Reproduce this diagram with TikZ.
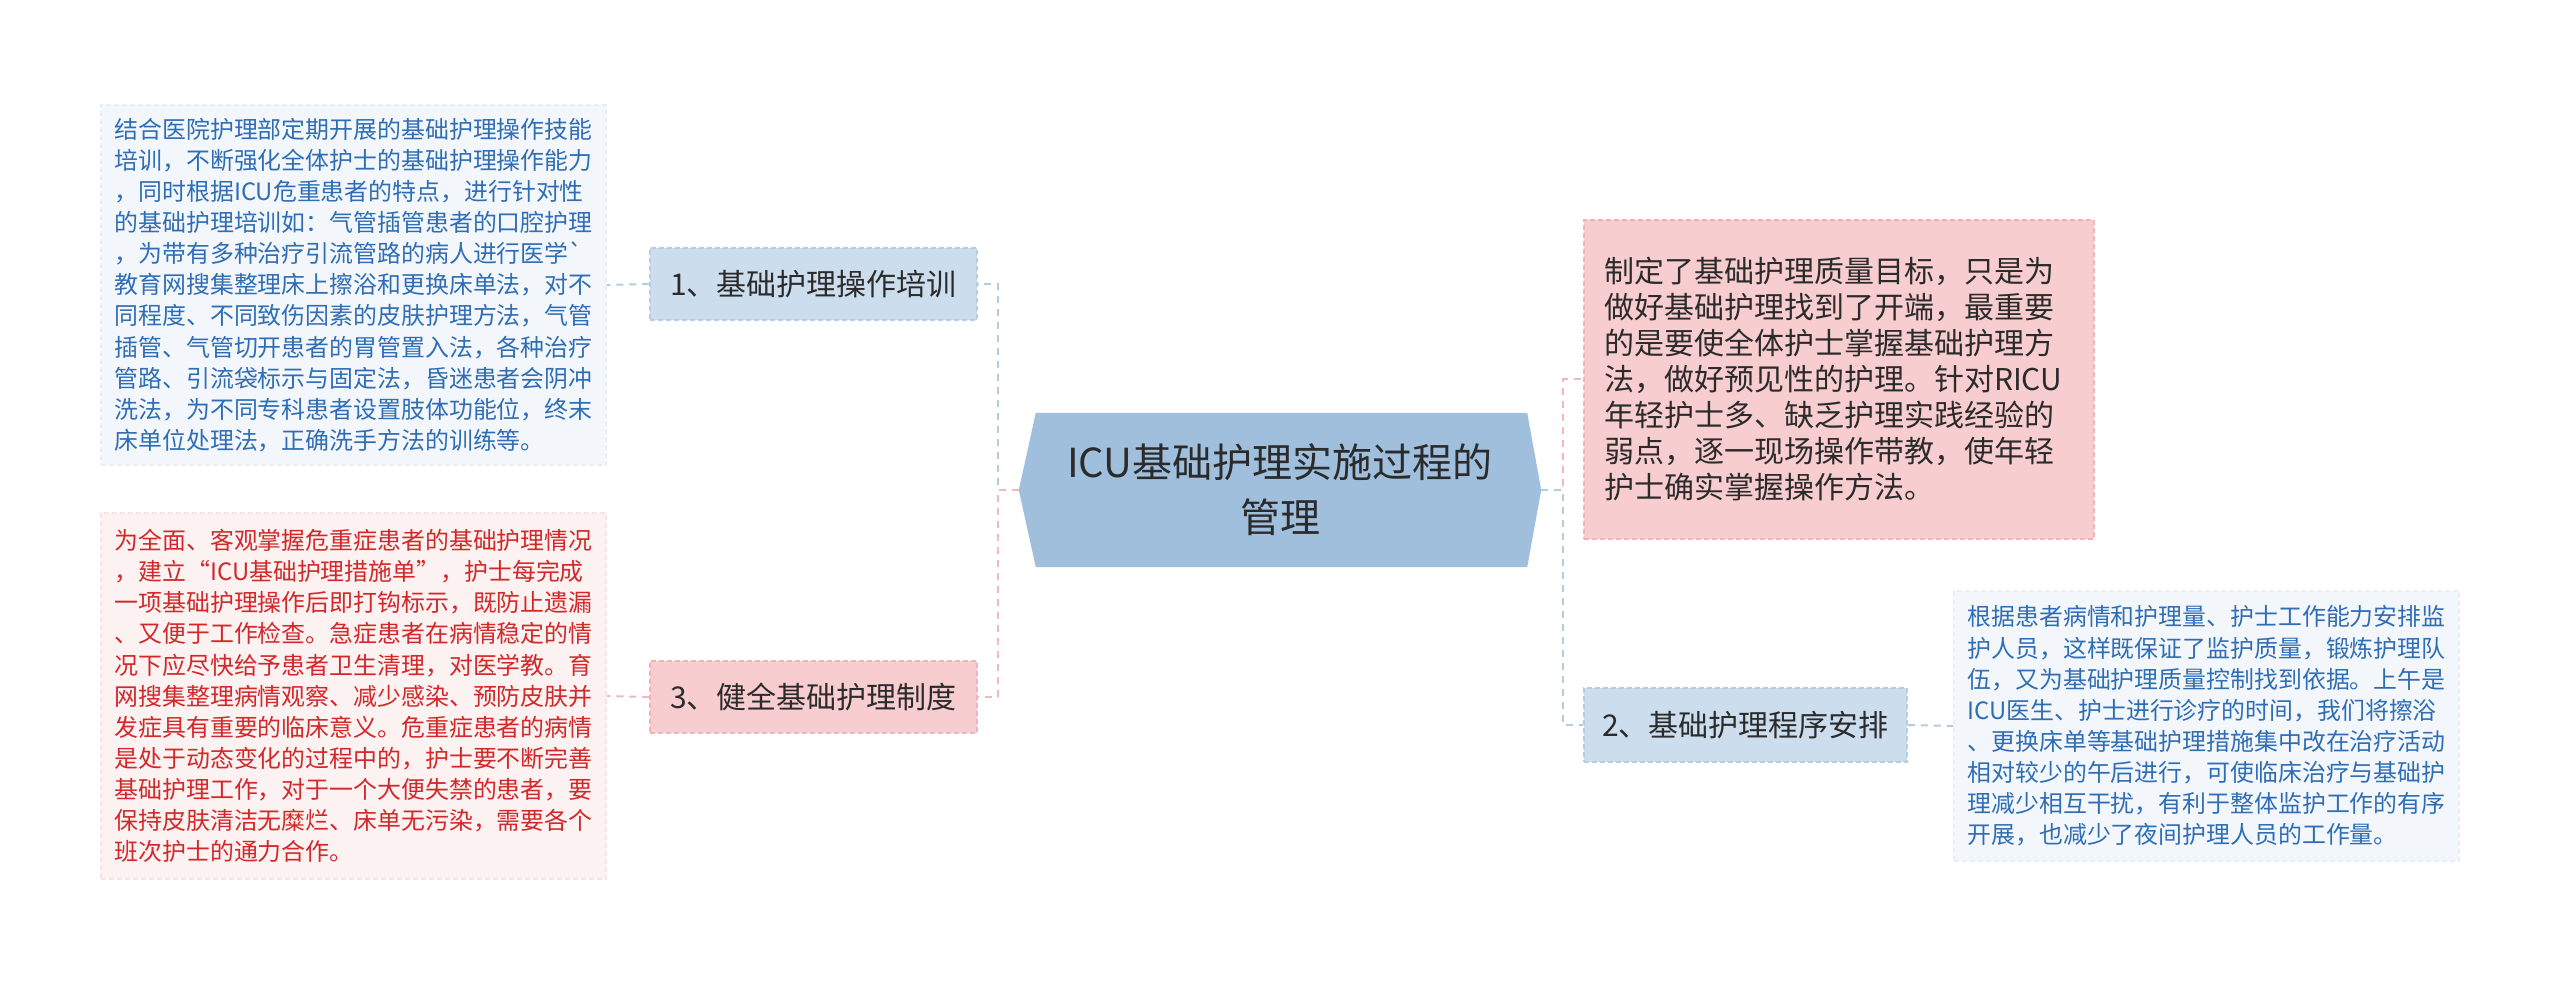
\documentclass[tikz,border=0pt]{standalone}
\usepackage{fontspec}
\setmainfont{Noto Sans CJK SC}
\usetikzlibrary{backgrounds}
\definecolor{rootfill}{HTML}{9FBFDD}
\definecolor{darktext}{HTML}{2B2B2B}
\definecolor{bboxfill}{HTML}{CCDDED}
\definecolor{bboxline}{HTML}{B6CDE3}
\definecolor{pboxfill}{HTML}{F7CDD0}
\definecolor{pboxline}{HTML}{EFB3B8}
\definecolor{bleaffill}{HTML}{F3F7FC}
\definecolor{bleafline}{HTML}{E6EEF8}
\definecolor{bleaftext}{HTML}{2F6EB5}
\definecolor{pleaffill}{HTML}{FDF2F2}
\definecolor{pleafline}{HTML}{F8E2E3}
\definecolor{pleaftext}{HTML}{D2282A}
\definecolor{bluecon}{HTML}{B4CBE0}
\definecolor{pinkcon}{HTML}{F0B9BE}
\tikzset{
  conline/.style={line width=2pt, dash pattern=on 7pt off 6pt},
  bcon/.style={conline, draw=bluecon},
  pcon/.style={conline, draw=pinkcon},
  labelbox/.style={inner sep=0pt, text=darktext, font=\fontsize{30}{36}\selectfont,
    line width=1.5pt, dash pattern=on 5pt off 3pt},
  bluelabel/.style={labelbox, fill=bboxfill, draw=bboxline},
  pinklabel/.style={labelbox, fill=pboxfill, draw=pboxline},
  leafbox/.style={inner ysep=0pt, inner xsep=13.5pt, text width=478pt, align=left,
    font=\fontsize{23.9}{31.1}\selectfont, line width=1.2pt, dash pattern=on 5pt off 3pt},
  blueleaf/.style={leafbox, fill=bleaffill, draw=bleafline, text=bleaftext},
  pinkleaf/.style={leafbox, fill=pleaffill, draw=pleafline, text=pleaftext},
}
\begin{document}
\begin{tikzpicture}[x=1pt,y=-1pt]
\useasboundingbox (0,0) rectangle (2560,981);
\begin{scope}[on background layer]
\fill[white] (0,0) rectangle (2560,981);
\end{scope}

% root
\node[inner sep=0pt, minimum width=522pt, minimum height=154pt, align=center,
  text=darktext, font=\fontsize{40}{55}\selectfont] (root) at (1280,490)
  {ICU基础护理实施过程的\\管理};
\begin{scope}[on background layer]
\fill[rootfill] (root.west) -- ([xshift=17pt]root.north west) -- ([xshift=-14pt]root.north east)
  -- (root.east) -- ([xshift=-14pt]root.south east) -- ([xshift=17pt]root.south west) -- cycle;
\end{scope}

% first level
\node[bluelabel, minimum width=327pt, minimum height=72pt] (b1) at (813.5,284) {1、基础护理操作培训};
\node[pinklabel, minimum width=327pt, minimum height=72pt] (b3) at (813.5,697) {3、健全基础护理制度};
\node[bluelabel, minimum width=323pt, minimum height=74pt] (b2) at (1745.5,725) {2、基础护理程序安排};
\node[pinklabel, inner xsep=20pt, inner ysep=0pt, text width=470pt, align=left,
  minimum height=319pt] (r1) at (1839,379.5)
  {制定了基础护理质量目标，只是为\\
   做好基础护理找到了开端，最重要\\
   的是要使全体护士掌握基础护理方\\
   法，做好预见性的护理。针对RICU\\
   年轻护士多、缺乏护理实践经验的\\
   弱点，逐一现场操作带教，使年轻\\
   护士确实掌握操作方法。};

% leaves
\node[blueleaf, minimum height=360pt] (l1) at (353.5,285)
  {结合医院护理部定期开展的基础护理操作技能\\
   培训，不断强化全体护士的基础护理操作能力\\
   ，同时根据ICU危重患者的特点，进行针对性\\
   的基础护理培训如：气管插管患者的口腔护理\\
   ，为带有多种治疗引流管路的病人进行医学\textasciigrave\\
   教育网搜集整理床上擦浴和更换床单法，对不\\
   同程度、不同致伤因素的皮肤护理方法，气管\\
   插管、气管切开患者的胃管置入法，各种治疗\\
   管路、引流袋标示与固定法，昏迷患者会阴冲\\
   洗法，为不同专科患者设置肢体功能位，终末\\
   床单位处理法，正确洗手方法的训练等。};
\node[pinkleaf, minimum height=366pt] (l3) at (353.5,696)
  {为全面、客观掌握危重症患者的基础护理情况\\
   ，建立“ICU基础护理措施单”，护士每完成\\
   一项基础护理操作后即打钩标示，既防止遗漏\\
   、又便于工作检查。急症患者在病情稳定的情\\
   况下应尽快给予患者卫生清理，对医学教。育\\
   网搜集整理病情观察、减少感染、预防皮肤并\\
   发症具有重要的临床意义。危重症患者的病情\\
   是处于动态变化的过程中的，护士要不断完善\\
   基础护理工作，对于一个大便失禁的患者，要\\
   保持皮肤清洁无糜烂、床单无污染，需要各个\\
   班次护士的通力合作。};
\node[blueleaf, minimum height=270pt] (l2) at (2206.5,726)
  {根据患者病情和护理量、护士工作能力安排监\\
   护人员，这样既保证了监护质量，锻炼护理队\\
   伍，又为基础护理质量控制找到依据。上午是\\
   ICU医生、护士进行诊疗的时间，我们将擦浴\\
   、更换床单等基础护理措施集中改在治疗活动\\
   相对较少的午后进行，可使临床治疗与基础护\\
   理减少相互干扰，有利于整体监护工作的有序\\
   开展，也减少了夜间护理人员的工作量。};

% connectors
\begin{scope}[on background layer]
\draw[bcon] (root.west) -- ++(-21,0) |- (b1.east);
\draw[pcon] (root.west) -- ++(-21,0) |- (b3.east);
\draw[pcon] (root.east) -- ++(22,0) |- (r1.west);
\draw[bcon] (root.east) -- ++(22,0) |- (b2.west);
\draw[bcon] (b1.west) -- (l1.east);
\draw[pcon] (b3.west) -- (l3.east);
\draw[bcon] (b2.east) -- (l2.west);
\end{scope}
\end{tikzpicture}
\end{document}
